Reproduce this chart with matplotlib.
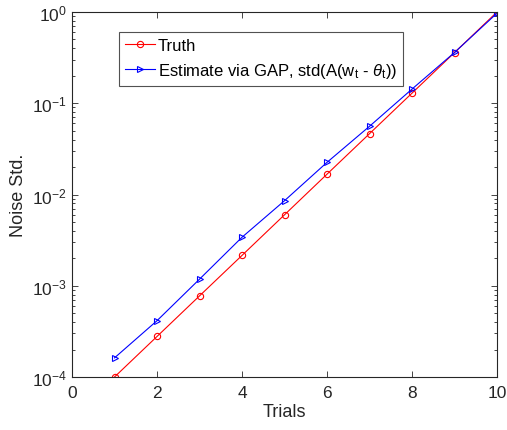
import matplotlib
matplotlib.use('AGG')
import numpy as np
import matplotlib.pyplot as plt
from matplotlib.ticker import LogLocator, FixedLocator

plt.rcParams['font.family'] = ['Liberation Sans', 'DejaVu Sans']
plt.rcParams['mathtext.fontset'] = 'custom'
plt.rcParams['mathtext.rm'] = 'Liberation Sans'
plt.rcParams['mathtext.it'] = 'Liberation Sans:italic'
plt.rcParams['mathtext.default'] = 'regular'

# Data
trials = [1, 2, 3, 4, 5, 6, 7, 8, 9, 10]
truth = [1.0e-4, 2.78e-4, 7.74e-4, 2.15e-3, 5.99e-3, 1.67e-2, 4.64e-2, 0.129, 0.359, 1.0]
estimate = [1.62e-4, 4.14e-4, 1.18e-3, 3.40e-3, 8.55e-3, 2.25e-2, 5.59e-2, 0.143, 0.36, 0.97]

gray = '#262626'

fig = plt.figure(figsize=(5.07, 4.31), dpi=100)
ax = fig.add_axes([72 / 507, 1 - 378 / 431, 425 / 507, 365 / 431])

ax.semilogy(trials, truth, color='red', lw=0.8, marker='o', ms=4.5,
            mfc='none', mew=0.8, label='Truth')
ax.semilogy(trials, estimate, color='blue', lw=0.8, marker='>', ms=4.5,
            mfc='none', mew=0.8,
            label=r'Estimate via GAP, std(A(w$_t$ - $\mathit{\theta}_t$))')

ax.set_xlim(0, 10)
ax.set_ylim(1e-4, 1)
ax.xaxis.set_major_locator(FixedLocator([0, 2, 4, 6, 8, 10]))
ax.yaxis.set_major_locator(LogLocator(base=10, numticks=10))
ax.yaxis.set_minor_locator(LogLocator(base=10, subs=np.arange(2, 10), numticks=20))

for s in ax.spines.values():
    s.set_color(gray)
    s.set_linewidth(0.8)
ax.tick_params(which='both', direction='in', top=True, right=True,
               colors=gray, labelsize=12.5, width=0.6)
ax.tick_params(which='major', length=4)
ax.tick_params(which='minor', length=2)
ax.tick_params(axis='x', pad=6)

ax.set_xlabel('Trials', fontsize=13, color=gray, labelpad=2)
ax.set_ylabel('Noise Std.', fontsize=13, color=gray, labelpad=4)

leg = ax.legend(loc='upper left', bbox_to_anchor=(0.11, 0.944), fontsize=12,
                frameon=True, fancybox=False, edgecolor=gray, handlelength=1.8,
                borderpad=0.35, labelspacing=0.45, handletextpad=0.2,
                borderaxespad=0)
leg.get_frame().set_linewidth(0.8)

fig.savefig('out.png', dpi=100)
